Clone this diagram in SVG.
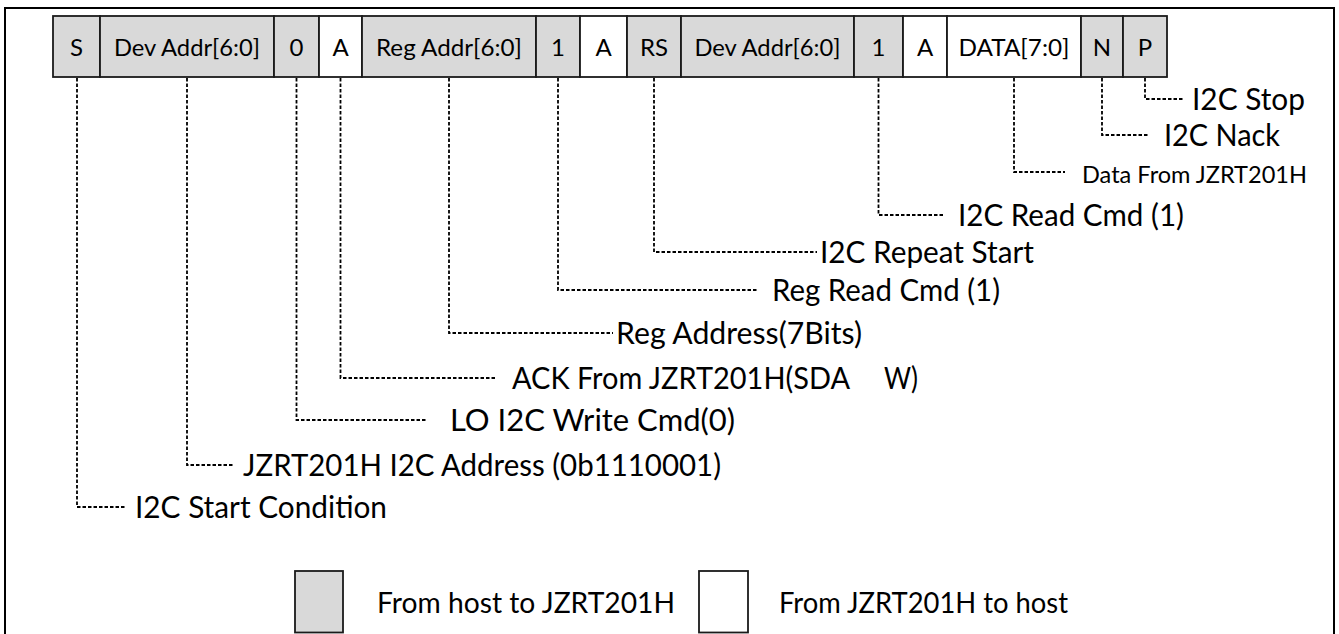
<svg xmlns="http://www.w3.org/2000/svg" width="1339" height="634" viewBox="0 0 1339 634">
<style>
.frame{fill:none;stroke:#000;stroke-width:2}
.cell{stroke:#1a1a1a;stroke-width:1.8}
.g{fill:#d9d9d9}
.w{fill:#fff}
.ct{font-family:Lato,"Open Sans",sans-serif;font-size:24px;fill:#000;text-anchor:middle}
.lb{font-family:Lato,"Open Sans",sans-serif;font-size:30px;fill:#000}
.sm{font-family:Lato,"Open Sans",sans-serif;font-size:24px;fill:#000}
.lg{font-family:Lato,"Open Sans",sans-serif;font-size:28px;fill:#000}
.leg{fill:none;stroke:#000;stroke-width:1.8;stroke-dasharray:3.5 2}
</style>
<rect width="1339" height="634" fill="#fff"/>
<path class="frame" d="M5,640 V8 H1334 V640"/>
<g id="packet">
<g id="cell-S"><rect class="cell g" x="53" y="16" width="47" height="61"/><text class="ct" x="76.5" y="56">S</text></g>
<g id="cell-devaddr1"><rect class="cell g" x="100" y="16" width="174" height="61"/><text class="ct" x="187" y="56" textLength="146" lengthAdjust="spacingAndGlyphs">Dev Addr[6:0]</text></g>
<g id="cell-0"><rect class="cell g" x="274" y="16" width="45" height="61"/><text class="ct" x="296.5" y="56">0</text></g>
<g id="cell-A1"><rect class="cell w" x="319" y="16" width="43" height="61"/><text class="ct" x="340.5" y="56">A</text></g>
<g id="cell-regaddr"><rect class="cell g" x="362" y="16" width="174" height="61"/><text class="ct" x="449" y="56" textLength="146" lengthAdjust="spacingAndGlyphs">Reg Addr[6:0]</text></g>
<g id="cell-1a"><rect class="cell g" x="536" y="16" width="44" height="61"/><text class="ct" x="558" y="56">1</text></g>
<g id="cell-A2"><rect class="cell w" x="580" y="16" width="47" height="61"/><text class="ct" x="603.5" y="56">A</text></g>
<g id="cell-RS"><rect class="cell g" x="627" y="16" width="54" height="61"/><text class="ct" x="654" y="56">RS</text></g>
<g id="cell-devaddr2"><rect class="cell g" x="681" y="16" width="173" height="61"/><text class="ct" x="767.5" y="56" textLength="146" lengthAdjust="spacingAndGlyphs">Dev Addr[6:0]</text></g>
<g id="cell-1b"><rect class="cell g" x="854" y="16" width="49" height="61"/><text class="ct" x="878.5" y="56">1</text></g>
<g id="cell-A3"><rect class="cell w" x="903" y="16" width="44" height="61"/><text class="ct" x="925" y="56">A</text></g>
<g id="cell-data"><rect class="cell w" x="947" y="16" width="134" height="61"/><text class="ct" x="1014" y="56" textLength="111" lengthAdjust="spacingAndGlyphs">DATA[7:0]</text></g>
<g id="cell-N"><rect class="cell g" x="1081" y="16" width="42" height="61"/><text class="ct" x="1102" y="56">N</text></g>
<g id="cell-P"><rect class="cell g" x="1123" y="16" width="44" height="61"/><text class="ct" x="1145" y="56">P</text></g>
</g>
<g id="connectors">
<path class="leg" d="M1145,78 V99 H1183"/>
<path class="leg" d="M1102,78 V135 H1149"/>
<path class="leg" d="M1014,78 V172 H1065"/>
<path class="leg" d="M878.5,78 V215 H943"/>
<path class="leg" d="M654,78 V252 H817"/>
<path class="leg" d="M558,78 V290 H757"/>
<path class="leg" d="M449,78 V333 H613"/>
<path class="leg" d="M340.5,78 V378 H497"/>
<path class="leg" d="M296.5,78 V420 H426"/>
<path class="leg" d="M187,78 V465 H233"/>
<path class="leg" d="M77,78 V507 H126"/>
</g>
<g id="labels">
<g id="lbl-stop"><text class="lb" x="1192" y="110" textLength="113" lengthAdjust="spacingAndGlyphs">I2C Stop</text></g>
<g id="lbl-nack"><text class="lb" x="1164" y="146" textLength="116" lengthAdjust="spacingAndGlyphs">I2C Nack</text></g>
<g id="lbl-data"><text class="sm" x="1082" y="183" textLength="225" lengthAdjust="spacingAndGlyphs">Data From JZRT201H</text></g>
<g id="lbl-readcmd"><text class="lb" x="958" y="226" textLength="226" lengthAdjust="spacingAndGlyphs">I2C Read Cmd (1)</text></g>
<g id="lbl-repeat"><text class="lb" x="820" y="263" textLength="214" lengthAdjust="spacingAndGlyphs">I2C Repeat Start</text></g>
<g id="lbl-regread"><text class="lb" x="772" y="301" textLength="228" lengthAdjust="spacingAndGlyphs">Reg Read Cmd (1)</text></g>
<g id="lbl-regaddr"><text class="lb" x="616" y="344" textLength="246" lengthAdjust="spacingAndGlyphs">Reg Address(7Bits)</text></g>
<g id="lbl-ack"><text class="lb" x="512" y="389" textLength="338" lengthAdjust="spacingAndGlyphs">ACK From JZRT201H(SDA</text><text class="lb" x="884" y="389" textLength="34" lengthAdjust="spacingAndGlyphs">W)</text></g>
<g id="lbl-write"><text class="lb" x="450" y="431" textLength="285" lengthAdjust="spacingAndGlyphs">LO I2C Write Cmd(0)</text></g>
<g id="lbl-devaddr"><text class="lb" x="243" y="476" textLength="478" lengthAdjust="spacingAndGlyphs">JZRT201H I2C Address (0b1110001)</text></g>
<g id="lbl-start"><text class="lb" x="135" y="518" textLength="252" lengthAdjust="spacingAndGlyphs">I2C Start Condition</text></g>
</g>
<g id="legend">
<g id="legend-host"><rect class="cell g" x="295" y="571" width="48" height="61.5"/><text class="lg" x="377" y="613" textLength="298" lengthAdjust="spacingAndGlyphs">From host to JZRT201H</text></g>
<g id="legend-device"><rect class="cell w" x="699" y="571" width="49" height="61.5"/><text class="lg" x="779" y="613" textLength="289" lengthAdjust="spacingAndGlyphs">From JZRT201H to host</text></g>
</g>
</svg>
